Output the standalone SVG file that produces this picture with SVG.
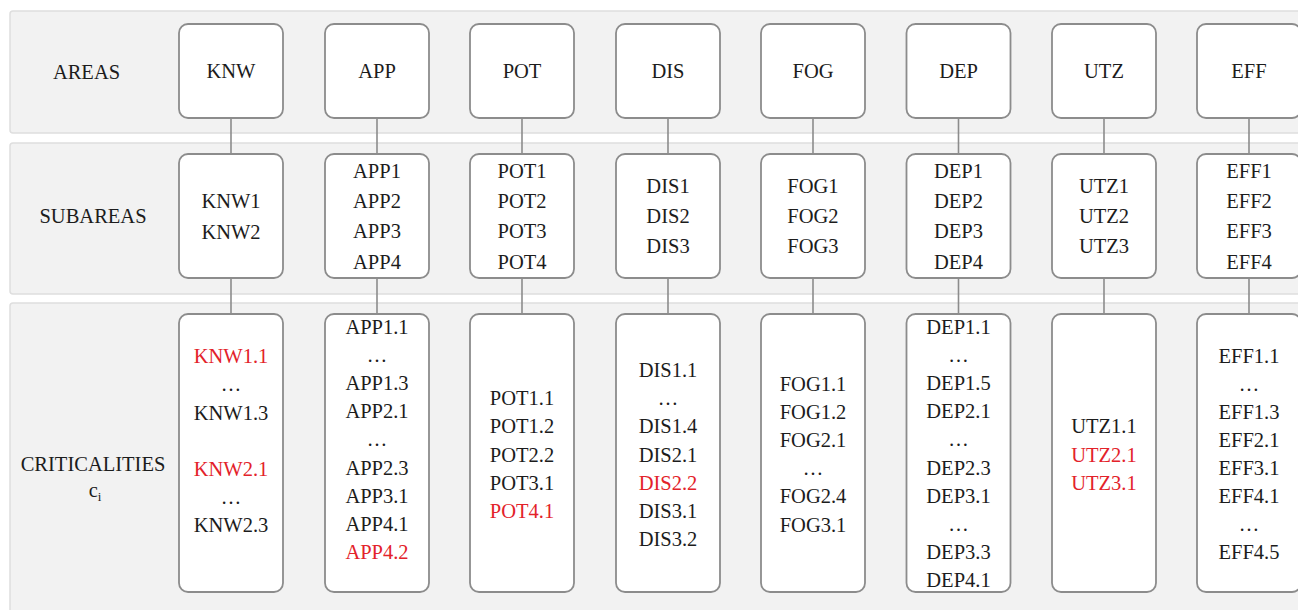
<svg xmlns="http://www.w3.org/2000/svg" width="1298" height="610" viewBox="0 0 1298 610">
  <style>
    .band { fill: #f2f2f2; stroke: #dedede; stroke-width: 1.5; }
    .box { fill: #ffffff; stroke: #8c8c8c; stroke-width: 1.8; }
    .link { stroke: #8c8c8c; stroke-width: 1.6; fill: none; }
    text { font-family: "Liberation Serif", "Times New Roman", Times, Tinos, "Nimbus Roman", "Noto Serif", "DejaVu Serif", FreeSerif, serif; font-size: 20.5px; fill: #1c1c1c; text-anchor: middle; }
    .red { fill: #e3222a; }
  </style>

  <!-- row bands -->
  <g id="bands">
    <rect class="band" x="10" y="11" width="1300" height="122" rx="3"/>
    <rect class="band" x="10" y="143" width="1300" height="151" rx="3"/>
    <rect class="band" x="10" y="303" width="1300" height="320" rx="3"/>
  </g>

  <!-- row labels -->
  <g id="row-labels">
    <text x="86.5" y="79">AREAS</text>
    <text x="93" y="223">SUBAREAS</text>
    <text x="93" y="471">CRITICALITIES</text>
    <text x="95" y="497">c<tspan font-size="13" dy="4">i</tspan></text>
  </g>

  <!-- connectors between levels -->
  <g id="connectors">
    <path class="link" d="M231 118V154M231 278V314"/>
    <path class="link" d="M377 118V154M377 278V314"/>
    <path class="link" d="M522 118V154M522 278V314"/>
    <path class="link" d="M668 118V154M668 278V314"/>
    <path class="link" d="M813 118V154M813 278V314"/>
    <path class="link" d="M958.5 118V154M958.5 278V314"/>
    <path class="link" d="M1104 118V154M1104 278V314"/>
    <path class="link" d="M1249 118V154M1249 278V314"/>
  </g>

  <!-- KNW -->
  <g id="knw">
    <rect class="box" x="179" y="24" width="104" height="94" rx="9"/>
    <text x="231" y="78">KNW</text>
  </g>
  <g id="knw-sub">
    <rect class="box" x="179" y="154" width="104" height="124" rx="9"/>
    <text x="231" y="208">KNW1</text>
    <text x="231" y="239">KNW2</text>
  </g>
  <g id="knw-crit">
    <rect class="box" x="179" y="314" width="104" height="278" rx="9"/>
    <text x="231" y="363" class="red">KNW1.1</text>
    <text x="231" y="391">…</text>
    <text x="231" y="420">KNW1.3</text>
    <text x="231" y="476" class="red">KNW2.1</text>
    <text x="231" y="504">…</text>
    <text x="231" y="532">KNW2.3</text>
  </g>

  <!-- APP -->
  <g id="app">
    <rect class="box" x="325" y="24" width="104" height="94" rx="9"/>
    <text x="377" y="78">APP</text>
  </g>
  <g id="app-sub">
    <rect class="box" x="325" y="154" width="104" height="124" rx="9"/>
    <text x="377" y="178">APP1</text>
    <text x="377" y="208">APP2</text>
    <text x="377" y="238">APP3</text>
    <text x="377" y="269">APP4</text>
  </g>
  <g id="app-crit">
    <rect class="box" x="325" y="314" width="104" height="278" rx="9"/>
    <text x="377" y="334">APP1.1</text>
    <text x="377" y="362">…</text>
    <text x="377" y="390">APP1.3</text>
    <text x="377" y="418">APP2.1</text>
    <text x="377" y="446">…</text>
    <text x="377" y="475">APP2.3</text>
    <text x="377" y="503">APP3.1</text>
    <text x="377" y="531">APP4.1</text>
    <text x="377" y="559" class="red">APP4.2</text>
  </g>

  <!-- POT -->
  <g id="pot">
    <rect class="box" x="470" y="24" width="104" height="94" rx="9"/>
    <text x="522" y="78">POT</text>
  </g>
  <g id="pot-sub">
    <rect class="box" x="470" y="154" width="104" height="124" rx="9"/>
    <text x="522" y="178">POT1</text>
    <text x="522" y="208">POT2</text>
    <text x="522" y="238">POT3</text>
    <text x="522" y="269">POT4</text>
  </g>
  <g id="pot-crit">
    <rect class="box" x="470" y="314" width="104" height="278" rx="9"/>
    <text x="522" y="405">POT1.1</text>
    <text x="522" y="433">POT1.2</text>
    <text x="522" y="462">POT2.2</text>
    <text x="522" y="490">POT3.1</text>
    <text x="522" y="518" class="red">POT4.1</text>
  </g>

  <!-- DIS -->
  <g id="dis">
    <rect class="box" x="616" y="24" width="104" height="94" rx="9"/>
    <text x="668" y="78">DIS</text>
  </g>
  <g id="dis-sub">
    <rect class="box" x="616" y="154" width="104" height="124" rx="9"/>
    <text x="668" y="193">DIS1</text>
    <text x="668" y="223">DIS2</text>
    <text x="668" y="253">DIS3</text>
  </g>
  <g id="dis-crit">
    <rect class="box" x="616" y="314" width="104" height="278" rx="9"/>
    <text x="668" y="377">DIS1.1</text>
    <text x="668" y="405">…</text>
    <text x="668" y="433">DIS1.4</text>
    <text x="668" y="462">DIS2.1</text>
    <text x="668" y="490" class="red">DIS2.2</text>
    <text x="668" y="518">DIS3.1</text>
    <text x="668" y="546">DIS3.2</text>
  </g>

  <!-- FOG -->
  <g id="fog">
    <rect class="box" x="761" y="24" width="104" height="94" rx="9"/>
    <text x="813" y="78">FOG</text>
  </g>
  <g id="fog-sub">
    <rect class="box" x="761" y="154" width="104" height="124" rx="9"/>
    <text x="813" y="193">FOG1</text>
    <text x="813" y="223">FOG2</text>
    <text x="813" y="253">FOG3</text>
  </g>
  <g id="fog-crit">
    <rect class="box" x="761" y="314" width="104" height="278" rx="9"/>
    <text x="813" y="391">FOG1.1</text>
    <text x="813" y="419">FOG1.2</text>
    <text x="813" y="447">FOG2.1</text>
    <text x="813" y="475">…</text>
    <text x="813" y="503">FOG2.4</text>
    <text x="813" y="532">FOG3.1</text>
  </g>

  <!-- DEP -->
  <g id="dep">
    <rect class="box" x="906.5" y="24" width="104" height="94" rx="9"/>
    <text x="958.5" y="78">DEP</text>
  </g>
  <g id="dep-sub">
    <rect class="box" x="906.5" y="154" width="104" height="124" rx="9"/>
    <text x="958.5" y="178">DEP1</text>
    <text x="958.5" y="208">DEP2</text>
    <text x="958.5" y="238">DEP3</text>
    <text x="958.5" y="269">DEP4</text>
  </g>
  <g id="dep-crit">
    <rect class="box" x="906.5" y="314" width="104" height="278" rx="9"/>
    <text x="958.5" y="334">DEP1.1</text>
    <text x="958.5" y="362">…</text>
    <text x="958.5" y="390">DEP1.5</text>
    <text x="958.5" y="418">DEP2.1</text>
    <text x="958.5" y="446">…</text>
    <text x="958.5" y="475">DEP2.3</text>
    <text x="958.5" y="503">DEP3.1</text>
    <text x="958.5" y="531">…</text>
    <text x="958.5" y="559">DEP3.3</text>
    <text x="958.5" y="587">DEP4.1</text>
  </g>

  <!-- UTZ -->
  <g id="utz">
    <rect class="box" x="1052" y="24" width="104" height="94" rx="9"/>
    <text x="1104" y="78">UTZ</text>
  </g>
  <g id="utz-sub">
    <rect class="box" x="1052" y="154" width="104" height="124" rx="9"/>
    <text x="1104" y="193">UTZ1</text>
    <text x="1104" y="223">UTZ2</text>
    <text x="1104" y="253">UTZ3</text>
  </g>
  <g id="utz-crit">
    <rect class="box" x="1052" y="314" width="104" height="278" rx="9"/>
    <text x="1104" y="433">UTZ1.1</text>
    <text x="1104" y="462" class="red">UTZ2.1</text>
    <text x="1104" y="490" class="red">UTZ3.1</text>
  </g>

  <!-- EFF -->
  <g id="eff">
    <rect class="box" x="1197" y="24" width="104" height="94" rx="9"/>
    <text x="1249" y="78">EFF</text>
  </g>
  <g id="eff-sub">
    <rect class="box" x="1197" y="154" width="104" height="124" rx="9"/>
    <text x="1249" y="178">EFF1</text>
    <text x="1249" y="208">EFF2</text>
    <text x="1249" y="238">EFF3</text>
    <text x="1249" y="269">EFF4</text>
  </g>
  <g id="eff-crit">
    <rect class="box" x="1197" y="314" width="104" height="278" rx="9"/>
    <text x="1249" y="363">EFF1.1</text>
    <text x="1249" y="391">…</text>
    <text x="1249" y="419">EFF1.3</text>
    <text x="1249" y="447">EFF2.1</text>
    <text x="1249" y="475">EFF3.1</text>
    <text x="1249" y="503">EFF4.1</text>
    <text x="1249" y="531">…</text>
    <text x="1249" y="559">EFF4.5</text>
  </g>
</svg>
